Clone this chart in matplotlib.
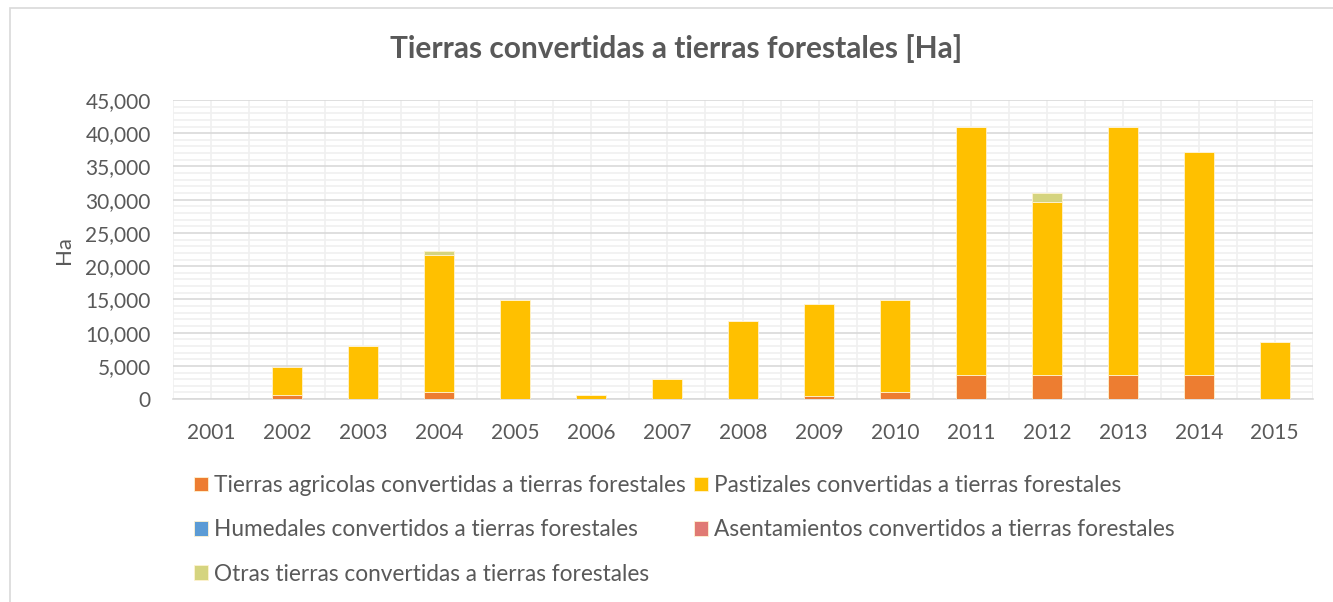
import matplotlib.pyplot as plt
import numpy as np
from matplotlib.patches import Rectangle
from matplotlib.ticker import MultipleLocator, FuncFormatter

years = ['2001', '2002', '2003', '2004', '2005', '2006', '2007', '2008',
         '2009', '2010', '2011', '2012', '2013', '2014', '2015']
agricolas = [0, 600, 0, 1100, 0, 0, 0, 0, 500, 1100, 3600, 3600, 3600, 3600, 0]
pastizales = [0, 4300, 8000, 20600, 14900, 600, 3000, 11750, 13800, 13800,
              37400, 26100, 37400, 33600, 8600]
humedales = [0] * 15
asentamientos = [0] * 15
otras = [0, 0, 0, 600, 0, 0, 0, 0, 0, 0, 0, 1300, 0, 0, 0]

series = [
    ('Tierras agricolas convertidas a tierras forestales', agricolas, '#ED7D31'),
    ('Pastizales convertidas a tierras forestales', pastizales, '#FFC000'),
    ('Humedales convertidos a tierras forestales', humedales, '#5B9BD5'),
    ('Asentamientos convertidos a tierras forestales', asentamientos, '#E07A73'),
    ('Otras tierras convertidas a tierras forestales', otras, '#D5D47F'),
]

plt.rcParams['font.family'] = ['Lato', 'DejaVu Sans']
txt = '#595959'

fig = plt.figure(figsize=(13.33, 6.02), dpi=100)
fig.patches.append(Rectangle((10 / 1333, -0.1), 1.2, 1.1 - 8 / 602,
                             transform=fig.transFigure, fill=False,
                             edgecolor='#D9D9D9', linewidth=1.2))
ax = fig.add_axes([0.1298, 0.337, 0.855, 0.497])

x = np.arange(len(years))
bottom = np.zeros(len(years))
handles = []
for name, vals, col in series:
    v = np.array(vals, dtype=float)
    b = ax.bar(x, v, width=0.4, bottom=bottom, color=col, label=name,
               edgecolor='#FFF3D0', linewidth=0.6, zorder=3)
    handles.append(b)
    bottom += v

ax.set_xlim(-0.5, len(years) - 0.5)
ax.set_ylim(0, 45000)
ax.yaxis.set_major_locator(MultipleLocator(5000))
ax.yaxis.set_minor_locator(MultipleLocator(1000))
ax.yaxis.set_major_formatter(FuncFormatter(lambda v, p: f'{int(v):,}'))
ax.set_xticks(x)
ax.set_xticklabels(years)
ax.set_xticks(np.arange(-0.5, len(years), 0.5), minor=True)

ax.grid(axis='y', which='major', color='#D9D9D9', linewidth=1.2, zorder=0)
ax.grid(axis='y', which='minor', color='#F0F0F0', linewidth=1.2, zorder=0)
ax.grid(axis='x', which='both', color='#F0F0F0', linewidth=1.2, zorder=0)
ax.set_axisbelow(True)

for s in ['top', 'right', 'left']:
    ax.spines[s].set_visible(False)
ax.spines['bottom'].set_color('#D9D9D9')
ax.spines['bottom'].set_linewidth(1.2)
ax.tick_params(which='both', length=0)
ax.tick_params(axis='both', labelsize=15, colors=txt)
ax.tick_params(axis='x', pad=17)
ax.tick_params(axis='y', pad=16)

ax.set_ylabel('Ha', fontsize=16, color=txt, labelpad=8)
fig.text(0.507, 0.92, 'Tierras convertidas a tierras forestales [Ha]',
         ha='center', va='center', fontsize=21.5, fontweight='bold', color=txt)

order = [0, 2, 4, 1, 3]
leg = fig.legend([handles[i] for i in order], [series[i][0] for i in order],
                 ncol=2, loc='upper left', bbox_to_anchor=(0.1455, 0.211),
                 frameon=False, fontsize=16.3, handlelength=0.6,
                 handleheight=0.6, handletextpad=0.3, columnspacing=0.35,
                 labelspacing=1.03, borderaxespad=0, borderpad=0)
for t in leg.get_texts():
    t.set_color(txt)

fig.savefig('out.png', dpi=100)
